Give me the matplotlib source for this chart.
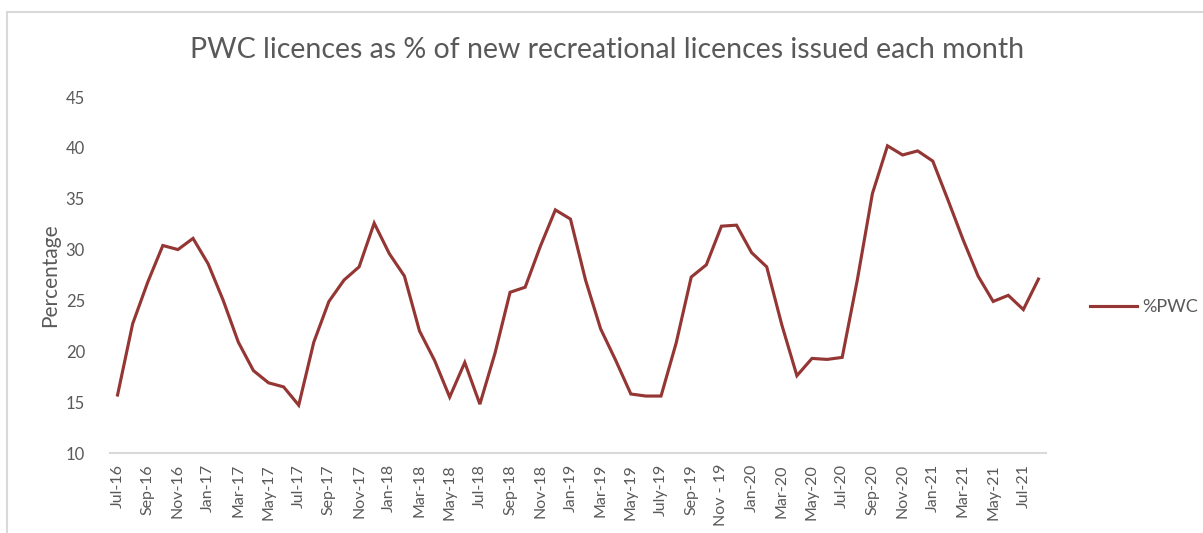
import matplotlib.pyplot as plt
from matplotlib.patches import Rectangle

# monthly values, Jul-16 .. Aug-21
months = ["Jul-16", "Aug-16", "Sep-16", "Oct-16", "Nov-16", "Dec-16",
          "Jan-17", "Feb-17", "Mar-17", "Apr-17", "May-17", "Jun-17",
          "Jul-17", "Aug-17", "Sep-17", "Oct-17", "Nov-17", "Dec-17",
          "Jan-18", "Feb-18", "Mar-18", "Apr-18", "May-18", "Jun-18",
          "Jul-18", "Aug-18", "Sep-18", "Oct-18", "Nov-18", "Dec-18",
          "Jan-19", "Feb-19", "Mar-19", "Apr-19", "May-19", "Jun-19",
          "July-19", "Aug-19", "Sep-19", "Oct-19", "Nov - 19", "Dec-19",
          "Jan-20", "Feb-20", "Mar-20", "Apr-20", "May-20", "Jun-20",
          "Jul-20", "Aug-20", "Sep-20", "Oct-20", "Nov-20", "Dec-20",
          "Jan-21", "Feb-21", "Mar-21", "Apr-21", "May-21", "Jun-21",
          "Jul-21", "Aug-21"]
pwc = [15.7, 22.7, 26.8, 30.4, 30.0, 31.1,
       28.6, 25.0, 20.9, 18.1, 16.9, 16.5,
       14.7, 20.9, 24.9, 27.0, 28.3, 32.6,
       29.6, 27.4, 22.0, 19.1, 15.5, 18.9,
       14.8, 19.8, 25.8, 26.3, 30.3, 33.9,
       33.0, 27.0, 22.2, 19.1, 15.8, 15.6,
       15.6, 20.8, 27.3, 28.5, 32.3, 32.4,
       29.7, 28.3, 22.6, 17.6, 19.3, 19.2,
       19.4, 27.0, 35.5, 40.2, 39.3, 39.7,
       38.7, 34.9, 31.0, 27.4, 24.9, 25.5,
       24.1, 27.1]
yticks = [10, 15, 20, 25, 30, 35, 40, 45]

txt = "#595959"
fam = ["Lato", "DejaVu Sans"]

fig = plt.figure(figsize=(12.03, 5.33), dpi=100)
ax = fig.add_axes([110/1203, 1 - 453/533, (1046-110)/1203, (453-97)/533])

x = list(range(len(months)))
ax.plot(x, pwc, color="#943634", linewidth=2.25, label="%PWC", solid_joinstyle="miter")

ax.set_xlim(-0.5, len(months) - 0.5)
ax.set_ylim(10, 45)
ax.set_yticks(yticks)
ax.set_yticklabels([str(v) for v in yticks], fontsize=12, color=txt, family=fam)
ax.set_xticks(x[::2])
ax.set_xticklabels(months[::2], rotation=90, fontsize=11.5, color=txt, family=fam)
ax.tick_params(axis="both", length=0, pad=8)
ax.tick_params(axis="y", pad=18)

for s in ["top", "right", "left"]:
    ax.spines[s].set_visible(False)
ax.spines["bottom"].set_color("#d9d9d9")
ax.spines["bottom"].set_linewidth(1.5)

ax.set_ylabel("Percentage", fontsize=15, color=txt, family=fam, labelpad=4)
fig.text(607/1203, 1 - 50/533, "PWC licences as % of new recreational licences issued each month",
         ha="center", va="center", fontsize=20.5, color=txt, family=fam)

leg = ax.legend(loc="center left", bbox_to_anchor=(1.03, 0.41), frameon=False,
                handlelength=2.6, handletextpad=0.3, prop={"family": fam, "size": 13})
for t in leg.get_texts():
    t.set_color(txt)

# chart frame
fig.patches.append(Rectangle((7/1203, -0.1), 1.1, 1 - 12/533 + 0.1, transform=fig.transFigure,
                             fill=False, edgecolor="#d9d9d9", linewidth=1.5))

fig.savefig("out.png", dpi=100)
